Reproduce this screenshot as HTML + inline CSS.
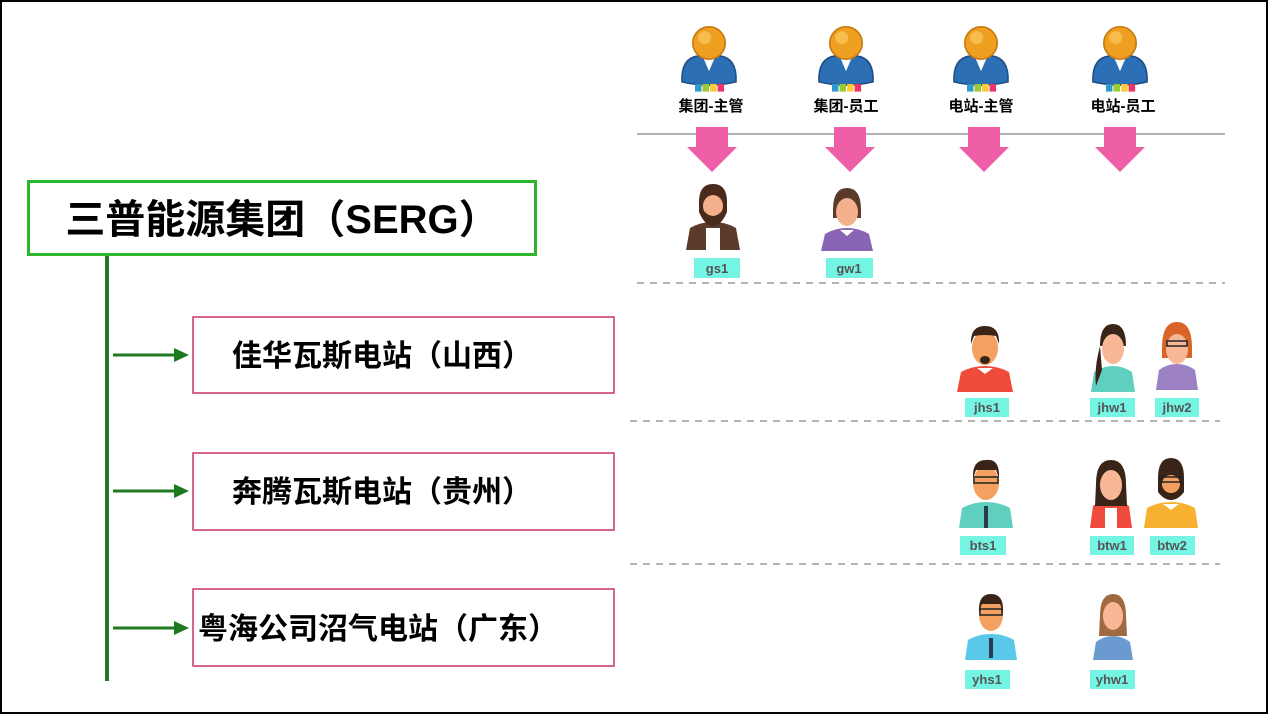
<!DOCTYPE html>
<html><head><meta charset="utf-8"><style>
body{margin:0;background:#fff}
svg{display:block}
text{font-family:"Liberation Sans","Noto Sans CJK SC",sans-serif}
</style></head><body>
<svg width="1268" height="714" viewBox="0 0 1268 714" xmlns="http://www.w3.org/2000/svg">
<defs>
<g id="role">
  <path d="M-25 36 Q-26 14 -10 12 L10 12 Q26 14 25 36 Q0 42 -25 36Z" fill="#2d6fb4" stroke="#1d4f86" stroke-width="1.5"/>
  <path d="M-6 12 L0 26 L6 12Z" fill="#fff"/>
  <circle cx="0" cy="0" r="15" fill="#f0a020" stroke="#c67a10" stroke-width="1.5"/>
  <circle cx="-4" cy="-5" r="6" fill="#f8c860" opacity="0.7"/>
  <rect x="-13" y="38" width="6" height="7" fill="#39c"/>
  <rect x="-6" y="38" width="6" height="7" fill="#9c3"/>
  <rect x="1" y="38" width="6" height="7" fill="#fc3"/>
  <rect x="8" y="38" width="6" height="7" fill="#e36"/>
</g>
<g id="arrow"><path d="M-16 0 H16 V20 H25 L0 45 L-25 20 H-16Z" fill="#ee5fa7"/></g>
</defs>
<rect x="1" y="1" width="1266" height="712" fill="#fff" stroke="#000" stroke-width="2"/>

<!-- roles -->
<g transform="translate(709,43) scale(1.08)"><use href="#role"/></g>
<g transform="translate(846,43) scale(1.08)"><use href="#role"/></g>
<g transform="translate(981,43) scale(1.08)"><use href="#role"/></g>
<g transform="translate(1120,43) scale(1.08)"><use href="#role"/></g>
<g font-size="15" font-weight="bold" text-anchor="middle" fill="#000">
<text x="711" y="111">集团-主管</text><text x="846" y="111">集团-员工</text>
<text x="981" y="111">电站-主管</text><text x="1123" y="111">电站-员工</text></g>
<line x1="637" y1="134" x2="1225" y2="134" stroke="#999" stroke-width="1.5"/>
<g transform="translate(712,127)"><use href="#arrow"/></g>
<g transform="translate(850,127)"><use href="#arrow"/></g>
<g transform="translate(984,127)"><use href="#arrow"/></g>
<g transform="translate(1120,127)"><use href="#arrow"/></g>

<g stroke="#888" stroke-width="1.3" stroke-dasharray="7,6">
<line x1="637" y1="283" x2="1225" y2="283"/>
<line x1="630" y1="421" x2="1220" y2="421"/>
<line x1="630" y1="564" x2="1220" y2="564"/></g>

<g>
<!-- gs1 -->
<path d="M686 250 L690 228 Q700 222 713 222 Q726 222 736 228 L740 250Z" fill="#5b3a2a"/><rect x="706" y="228" width="14" height="22" fill="#fff"/>
<path d="M699 202 Q699 184 713 184 Q727 184 727 202 L727 212 Q721 226 713 226 Q705 226 699 212Z" fill="#4a2a1a"/><ellipse cx="713" cy="206" rx="10" ry="11" fill="#f4b08c"/><path d="M703 210 Q713 222 723 210 L723 216 Q713 226 703 216Z" fill="#4a2a1a"/>
<!-- gw1 -->
<path d="M821 251 L825 234 Q835 228 847 228 Q859 228 869 234 L873 251Z" fill="#8a64b4"/><path d="M840 230 L847 236 L854 230Z" fill="#fff"/>
<path d="M833 210 Q833 188 847 188 Q861 188 861 210 L861 218 L833 218Z" fill="#5a3a28"/><ellipse cx="847" cy="212" rx="11" ry="14" fill="#f4b08c"/><path d="M836 205 Q840 192 858 200 L858 195 Q850 188 838 194Z" fill="#5a3a28"/>
<!-- jhs1 -->
<path d="M957 392 L961 372 Q972 366 985 366 Q998 366 1009 372 L1013 392Z" fill="#f04a3a"/><path d="M977 368 L985 374 L993 368Z" fill="#fff"/>
<ellipse cx="985" cy="348" rx="13" ry="17" fill="#f4a060"/><path d="M971 344 Q970 326 985 326 Q1000 326 999 344 L996 336 Q985 334 974 336Z" fill="#3a2418"/><ellipse cx="985" cy="360" rx="5" ry="4" fill="#3a2418"/>
<!-- jhw1 -->
<path d="M1091 392 L1094 372 Q1103 366 1113 366 Q1123 366 1132 372 L1135 392Z" fill="#5fcfc0"/>
<path d="M1100 346 Q1100 324 1113 324 Q1126 324 1126 346 Z" fill="#3a2418"/><path d="M1100 346 Q1094 368 1096 386 L1102 370Z" fill="#3a2418"/><ellipse cx="1113" cy="349" rx="11" ry="15" fill="#f8b898"/>
<!-- jhw2 -->
<path d="M1156 390 L1159 370 Q1167 364 1177 364 Q1187 364 1195 370 L1198 390Z" fill="#9b80c4"/>
<path d="M1162 348 Q1162 322 1177 322 Q1192 322 1192 348 L1192 358 L1162 358Z" fill="#d8642a"/><ellipse cx="1177" cy="349" rx="11" ry="15" fill="#f8b898"/><rect x="1167" y="341" width="20" height="5" fill="none" stroke="#222" stroke-width="1.5"/>
<!-- bts1 -->
<path d="M959 528 L962 508 Q973 502 986 502 Q999 502 1010 508 L1013 528Z" fill="#5fcfc0"/><rect x="984" y="506" width="4" height="22" fill="#2a3850"/>
<ellipse cx="986" cy="483" rx="13" ry="17" fill="#f4a060"/><path d="M973 478 Q972 460 986 460 Q1000 458 999 478 L996 470 L976 470Z" fill="#3a2418"/><rect x="974" y="477" width="24" height="6" fill="none" stroke="#222" stroke-width="1.5"/>
<!-- btw1 -->
<path d="M1090 528 L1093 506 Q1101 500 1111 500 Q1121 500 1129 506 L1132 528Z" fill="#f04a3a"/><rect x="1105" y="508" width="12" height="20" fill="#fff"/>
<path d="M1096 484 Q1096 460 1111 460 Q1126 460 1126 484 L1127 506 L1095 506Z" fill="#3a2418"/><ellipse cx="1111" cy="485" rx="11" ry="15" fill="#f8b898"/>
<!-- btw2 -->
<path d="M1144 528 L1147 508 Q1158 502 1171 502 Q1184 502 1195 508 L1198 528Z" fill="#f8b030"/><path d="M1163 504 L1171 510 L1179 504Z" fill="#fff"/>
<ellipse cx="1171" cy="482" rx="13" ry="17" fill="#f4a060"/><path d="M1158 478 Q1158 458 1171 458 Q1184 458 1184 478 L1184 492 Q1178 500 1171 500 Q1164 500 1158 492Z" fill="#3a2418"/><ellipse cx="1171" cy="484" rx="9" ry="9" fill="#f4a060"/><rect x="1161" y="477" width="20" height="5" fill="none" stroke="#222" stroke-width="1.5"/>
<!-- yhs1 -->
<path d="M965 660 L968 640 Q978 634 991 634 Q1004 634 1014 640 L1017 660Z" fill="#5ac8e8"/><rect x="989" y="638" width="4" height="20" fill="#2a3850"/>
<ellipse cx="991" cy="615" rx="12" ry="16" fill="#f4a060"/><path d="M979 612 Q978 594 991 594 Q1004 594 1003 612 L1000 604 L982 604Z" fill="#3a2418"/><rect x="980" y="609" width="22" height="6" fill="none" stroke="#222" stroke-width="1.5"/>
<!-- yhw1 -->
<path d="M1093 660 L1096 642 Q1104 636 1113 636 Q1122 636 1130 642 L1133 660Z" fill="#6a9ad0"/>
<path d="M1100 616 Q1100 594 1113 594 Q1126 594 1126 616 L1127 636 L1099 636Z" fill="#a06a40"/><ellipse cx="1113" cy="616" rx="10" ry="14" fill="#f8b898"/>
</g>

<g fill="#74f5e4">
<rect x="694" y="258" width="46" height="20"/><rect x="826" y="258" width="47" height="20"/>
<rect x="965" y="398" width="44" height="19"/><rect x="1090" y="398" width="45" height="19"/><rect x="1155" y="398" width="44" height="19"/>
<rect x="960" y="536" width="46" height="19"/><rect x="1090" y="536" width="44" height="19"/><rect x="1150" y="536" width="45" height="19"/>
<rect x="965" y="670" width="45" height="19"/><rect x="1090" y="670" width="45" height="19"/>
</g>
<g font-size="13" fill="#555" text-anchor="middle" font-weight="bold">
<text x="717" y="273">gs1</text><text x="849" y="273">gw1</text>
<text x="987" y="412">jhs1</text><text x="1112" y="412">jhw1</text><text x="1177" y="412">jhw2</text>
<text x="983" y="550">bts1</text><text x="1112" y="550">btw1</text><text x="1172" y="550">btw2</text>
<text x="987" y="684">yhs1</text><text x="1112" y="684">yhw1</text>
</g>

<rect x="28.5" y="181.5" width="507" height="73" fill="#fff" stroke="#2db52d" stroke-width="3"/>
<text x="282" y="233" font-size="40" font-weight="bold" text-anchor="middle" fill="#000">三普能源集团（SERG）</text>
<line x1="107" y1="256" x2="107" y2="681" stroke="#1e7a1e" stroke-width="4"/>
<g stroke="#1e7a1e" stroke-width="3" fill="#1e7a1e">
<line x1="113" y1="355" x2="176" y2="355"/><path d="M174 348 L189 355 L174 362Z" stroke="none"/>
<line x1="113" y1="491" x2="176" y2="491"/><path d="M174 484 L189 491 L174 498Z" stroke="none"/>
<line x1="113" y1="628" x2="176" y2="628"/><path d="M174 621 L189 628 L174 635Z" stroke="none"/>
</g>
<g fill="#fff" stroke="#c8326e" stroke-width="1.5">
<rect x="193" y="317" width="421" height="76"/><rect x="193" y="453" width="421" height="77"/><rect x="193" y="589" width="421" height="77"/></g>
<g font-size="30" font-weight="bold" fill="#000">
<text x="232" y="366">佳华瓦斯电站（山西）</text>
<text x="232" y="502">奔腾瓦斯电站（贵州）</text>
<text x="198" y="639">粤海公司沼气电站（广东）</text>
</g>
</svg>
</body></html>
